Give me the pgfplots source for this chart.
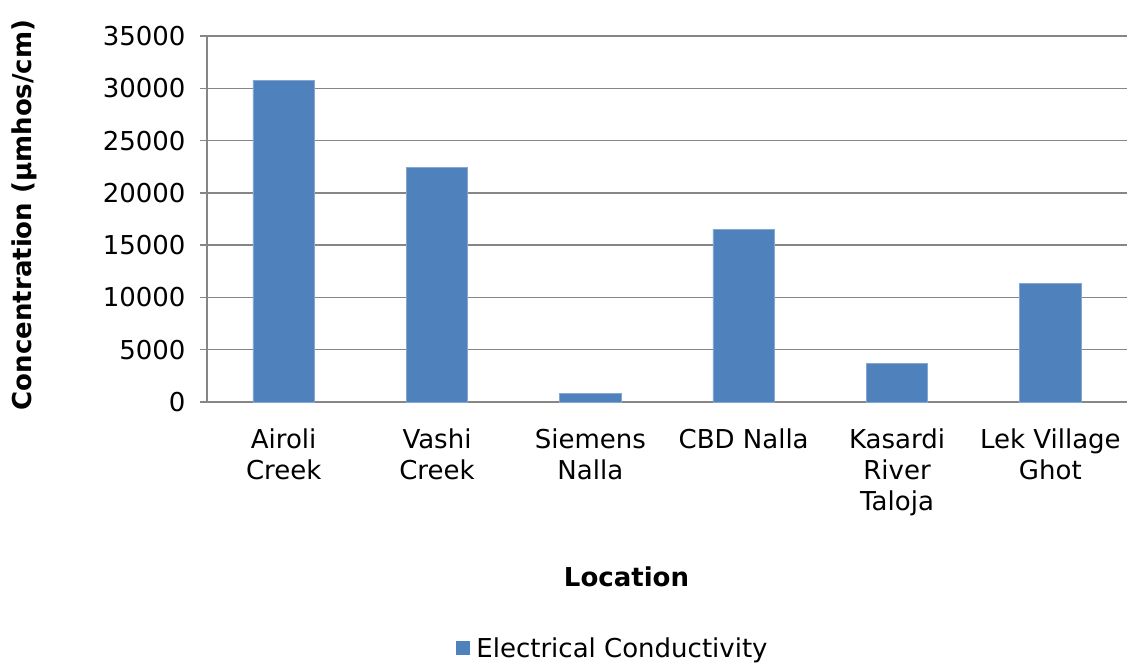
\documentclass[border=0pt]{standalone}
\usepackage{pgfplots}
\pgfplotsset{compat=1.18}
\usepackage{fontspec}
\setmainfont{DejaVu Sans}

\definecolor{barblue}{RGB}{79,129,189}
\definecolor{gridgray}{RGB}{134,134,134}

\begin{document}
\begin{tikzpicture}[font=\fontsize{26bp}{31bp}\selectfont]
\path[use as bounding box] (-207bp,-261bp) rectangle (922bp,402bp);
\begin{axis}[
  scale only axis,
  width=920bp, height=366bp,
  at={(0,0)}, anchor=south west,
  xmin=-0.5, xmax=5.5,
  ymin=0, ymax=35000,
  ytick={0,5000,...,35000},
  /pgf/number format/assume math mode=true,
  yticklabel style={/pgf/number format/fixed, /pgf/number format/1000 sep={}, xshift=-11bp},
  scaled y ticks=false,
  xtick={0,1,2,3,4,5},
  xticklabels={{Airoli\\Creek},{Vashi\\Creek},{Siemens\\Nalla},{CBD Nalla},{Kasardi\\River\\Taloja},{Lek Village\\Ghot}},
  xticklabel style={align=center, text depth=0pt, yshift=-16bp},
  x tick style={draw=none},
  extra x ticks={-0.5,0.5,1.5,2.5,3.5,4.5,5.5},
  extra x tick labels={},
  extra x tick style={grid=none, tick style={draw=gridgray, line width=1.3bp}},
  major tick length=7bp,
  tick align=outside,
  y tick style={draw=gridgray, line width=1.3bp},
  ymajorgrids,
  major grid style={draw=gridgray, line width=1.3bp},
  axis x line*=bottom,
  axis y line*=left,
  axis line style={draw=gridgray, line width=1.3bp, -},
  xlabel={\textbf{Location}},
  xlabel style={at={(axis description cs:0.456,-0.478)}, anchor=center},
  ylabel={\textbf{Concentration (µmhos/cm)}},
  ylabel style={at={(axis description cs:-0.198,0.511)}, anchor=center, rotate=0},
  legend style={draw=none, fill=none, at={(axis description cs:0.441,-0.672)}, anchor=center,
    nodes={inner sep=2bp}, /tikz/every odd column/.append style={column sep=5bp}},
  ybar, bar width=61.5bp,
]
\addplot[fill=barblue, draw=barblue!70!white, line width=0.6bp,
  legend image code/.code={\fill[barblue] (0bp,-6.5bp) rectangle (13bp,6.5bp);}]
  coordinates {(0,30750) (1,22430) (2,820) (3,16500) (4,3690) (5,11340)};
\addlegendentry{Electrical Conductivity}
\end{axis}
\end{tikzpicture}
\end{document}
